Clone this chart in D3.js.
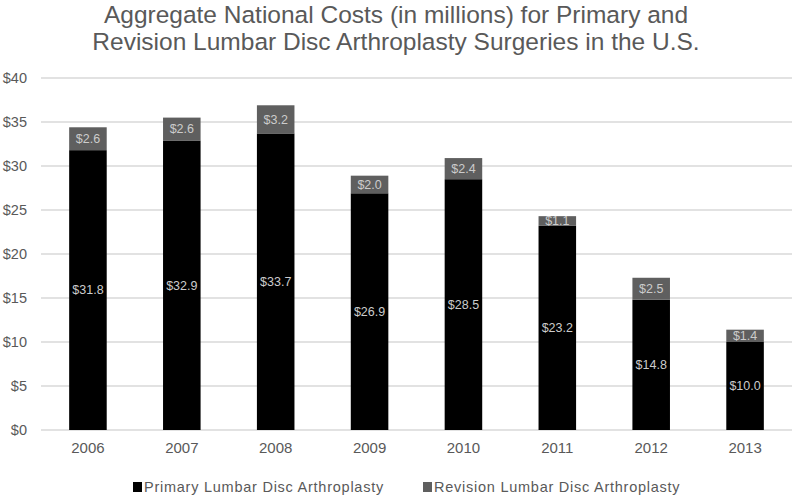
<!DOCTYPE html>
<html lang='en'>
	<head>
		<meta charset='UTF-8'>
		<title>Lumbar Disc Arthroplasty Costs</title>
		<style>
			body { margin: 0; background: #fff; }
			text { font-family: 'Liberation Sans', Arial, sans-serif; }
		</style>
	</head>
	<body>
		<svg id='graph' width='792' height='498'></svg>

		<script src='https://d3js.org/d3.v7.min.js'></script>
		<script>
			const years = ['2006', '2007', '2008', '2009', '2010', '2011', '2012', '2013']
			const primary = [31.8, 32.9, 33.7, 26.9, 28.5, 23.2, 14.8, 10.0]
			const revision = [2.6, 2.6, 3.2, 2.0, 2.4, 1.1, 2.5, 1.4]
			const yTicks = [0, 5, 10, 15, 20, 25, 30, 35, 40]
			const seriesNames = ['Primary Lumbar Disc Arthroplasty', 'Revision Lumbar Disc Arthroplasty']
			const titleLines = ['Aggregate National Costs (in millions) for Primary and', 'Revision Lumbar Disc Arthroplasty Surgeries in the U.S.']

			const width = 792
			const height = 498
			const plotLeft = 41, plotRight = 792, plotTop = 78, plotBottom = 430
			const grey = '#595959'

			const svg = d3.select('#graph')

			const xScale = d3.scaleBand()
				.domain(years)
				.range([plotLeft, plotRight])
				.paddingInner(0.6)
				.paddingOuter(0.3)
			const yScale = d3.scaleLinear()
				.domain([0, 40])
				.range([plotBottom, plotTop])

			// gridlines
			svg.append('g')
				.selectAll('line')
				.data(yTicks)
				.enter()
				.append('line')
				.attr('x1', plotLeft)
				.attr('x2', plotRight)
				.attr('y1', (d) => yScale(d))
				.attr('y2', (d) => yScale(d))
				.attr('stroke', '#d9d9d9')
				.attr('stroke-width', 1.3)

			const yAxis = d3.axisLeft(yScale)
				.tickValues(yTicks)
				.tickFormat((d) => '$' + d)
				.tickSize(0)
				.tickPadding(14)
			const yG = svg.append('g')
				.attr('transform', `translate(${plotLeft}, 0)`)
				.call(yAxis)
			yG.select('.domain').remove()
			yG.selectAll('text').attr('fill', grey).attr('font-size', 14.5)

			const xAxis = d3.axisBottom(xScale).tickSize(0).tickPadding(12)
			const xG = svg.append('g')
				.attr('transform', `translate(0, ${plotBottom})`)
				.call(xAxis)
			xG.select('.domain').remove()
			xG.selectAll('text').attr('fill', grey).attr('font-size', 15)

			const rows = years.map((y, i) => ({ year: y, p: primary[i], r: revision[i] }))

			svg.selectAll('rect.primary')
				.data(rows)
				.enter()
				.append('rect')
				.attr('class', 'primary')
				.attr('x', (d) => xScale(d.year))
				.attr('y', (d) => yScale(d.p))
				.attr('width', xScale.bandwidth())
				.attr('height', (d) => yScale(0) - yScale(d.p))
				.attr('fill', '#000')

			svg.selectAll('rect.revision')
				.data(rows)
				.enter()
				.append('rect')
				.attr('class', 'revision')
				.attr('x', (d) => xScale(d.year))
				.attr('y', (d) => yScale(d.p + d.r))
				.attr('width', xScale.bandwidth())
				.attr('height', (d) => yScale(d.p) - yScale(d.p + d.r))
				.attr('fill', '#5f5f5f')

			svg.selectAll('text.plabel')
				.data(rows)
				.enter()
				.append('text')
				.attr('class', 'plabel')
				.attr('x', (d) => xScale(d.year) + xScale.bandwidth() / 2)
				.attr('y', (d) => yScale(d.p / 2))
				.attr('dy', '0.35em')
				.attr('text-anchor', 'middle')
				.attr('font-size', 12.5)
				.attr('fill', '#cccccc')
				.text((d) => '$' + d.p.toFixed(1))

			svg.selectAll('text.rlabel')
				.data(rows)
				.enter()
				.append('text')
				.attr('class', 'rlabel')
				.attr('x', (d) => xScale(d.year) + xScale.bandwidth() / 2)
				.attr('y', (d) => yScale(d.p + d.r / 2))
				.attr('dy', '0.35em')
				.attr('text-anchor', 'middle')
				.attr('font-size', 12.5)
				.attr('fill', '#cccccc')
				.text((d) => '$' + d.r.toFixed(1))

			// title
			svg.append('g')
				.selectAll('text')
				.data(titleLines)
				.enter()
				.append('text')
				.attr('x', width / 2)
				.attr('y', (d, i) => 23 + i * 27)
				.attr('text-anchor', 'middle')
				.attr('font-size', 24.5)
				.attr('fill', grey)
				.text((d) => d)

			// legend
			const legendX = [133, 423]
			const legend = svg.append('g')
				.selectAll('g')
				.data(seriesNames)
				.enter()
				.append('g')
				.attr('transform', (d, i) => `translate(${legendX[i]}, 487)`)
			legend.append('rect')
				.attr('x', 0)
				.attr('y', -5)
				.attr('width', 9)
				.attr('height', 10)
				.attr('fill', (d, i) => i === 0 ? '#000' : '#5f5f5f')
			legend.append('text')
				.attr('x', 11)
				.attr('y', 0)
				.attr('dy', '0.35em')
				.attr('font-size', 14.5)
				.attr('letter-spacing', 0.75)
				.attr('fill', grey)
				.text((d) => d)
		</script>
	</body>
</html>
